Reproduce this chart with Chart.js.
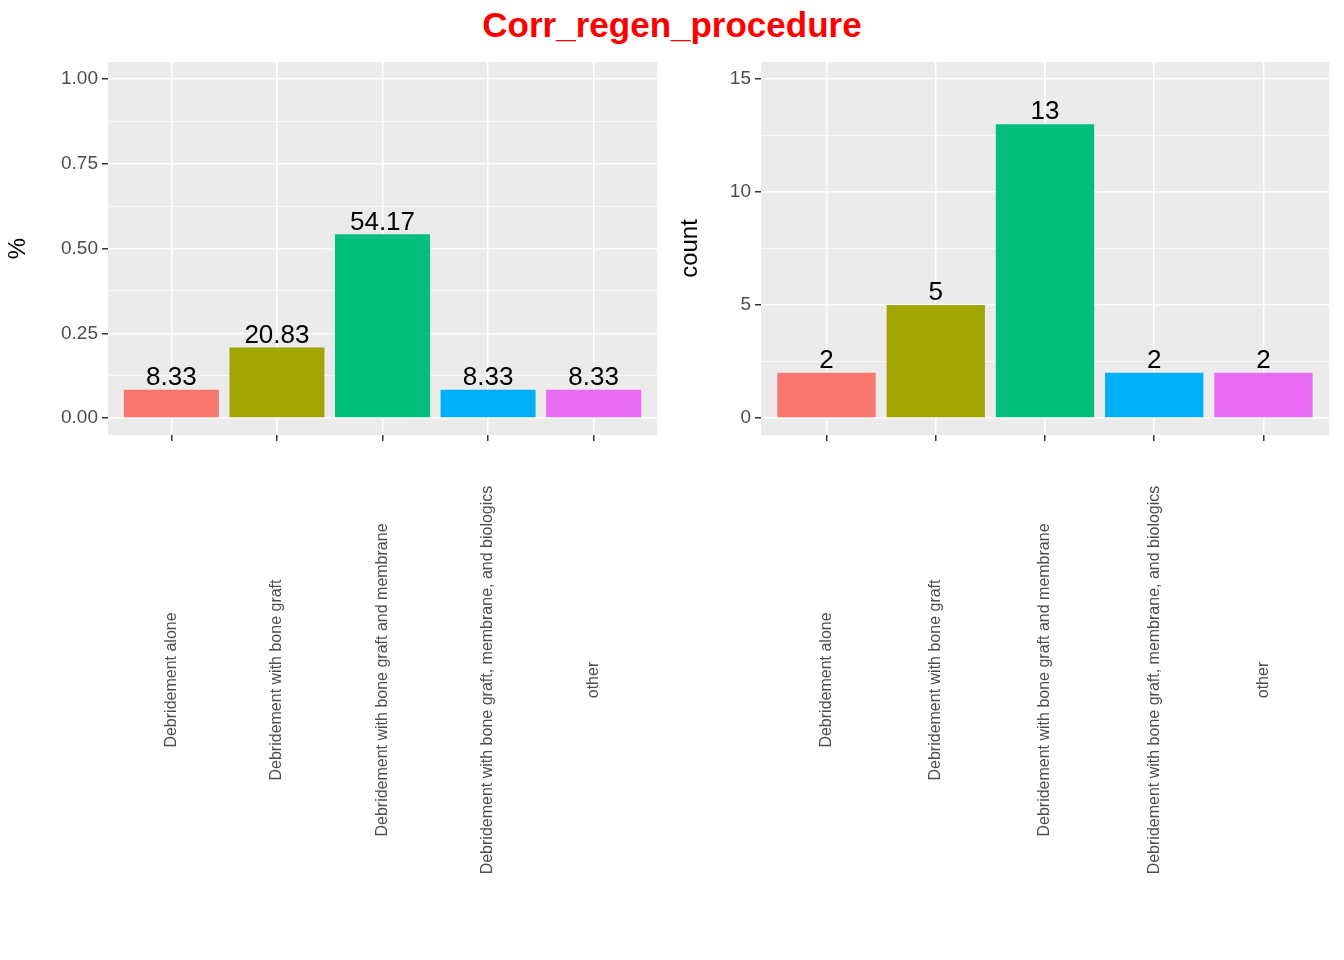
<!DOCTYPE html>
<html><head><meta charset="utf-8">
<script src="https://cdn.jsdelivr.net/npm/chart.js@4"></script>
<style>
body{margin:0;background:#fff;width:1344px;height:960px;position:relative;overflow:hidden;font-family:"Liberation Sans",Arial,sans-serif}
#title{position:absolute;left:0;width:1344px;top:5px;text-align:center;color:#ff0000;font-weight:bold;font-size:35px}
.c{position:absolute;top:40px;width:672px;height:920px}
</style></head><body>
<div id="title">Corr_regen_procedure</div>
<div class="c" style="left:0"><canvas id="c1"></canvas></div>
<div class="c" style="left:672px"><canvas id="c2"></canvas></div>
<script>
const categories=["Debridement alone","Debridement with bone graft","Debridement with bone graft and membrane","Debridement with bone graft, membrane, and biologics","other"];
const pctValues=[0.0833,0.2083,0.5417,0.0833,0.0833];
const pctLabels=["8.33","20.83","54.17","8.33","8.33"];
const countValues=[2,5,13,2,2];
const countLabels=["2","5","13","2","2"];
const colors=["#F8766D","#A3A500","#00BF7D","#00B0F6","#E76BF3"];
const pctTicks=[0,0.125,0.25,0.375,0.5,0.625,0.75,0.875,1];
const pctMajor=[0,0.25,0.5,0.75,1];
const countTicks=[0,2.5,5,7.5,10,12.5,15];
const countMajor=[0,5,10,15];

const bgPlugin={id:'bg',beforeDraw(ch){const a=ch.chartArea,c=ch.ctx;c.save();c.fillStyle='#EBEBEB';c.fillRect(a.left,a.top,a.right-a.left,a.bottom-a.top);c.restore();}};
const lblPlugin={id:'lbl',afterDatasetsDraw(ch){const c=ch.ctx,m=ch.getDatasetMeta(0),labs=ch.options.plugins.lbl.labels;c.save();c.font='26px "Liberation Sans",Arial';c.fillStyle='#000';c.textAlign='center';c.textBaseline='bottom';m.data.forEach((b,i)=>{c.fillText(labs[i],b.x,b.y+1);});
  const xs=ch.scales.x;c.font='16px "Liberation Sans",Arial';c.fillStyle='#4d4d4d';c.textBaseline='middle';
  categories.forEach((t,i)=>{const px=xs.getPixelForValue(i+1);c.save();c.translate(px,640);c.rotate(-Math.PI/2);c.fillText(t,0,0);c.restore();});
  c.restore();}};

function make(id,vals,labs,ticks,major,ymin,ymax,fmt,ytitle,yw){
  new Chart(document.getElementById(id),{type:'bar',
    data:{datasets:[{data:vals.map((v,i)=>({x:i+1,y:v})),backgroundColor:colors,barPercentage:0.9,categoryPercentage:1}]},
    options:{responsive:true,maintainAspectRatio:false,animation:false,
      layout:{padding:{top:22,right:15,left:0,bottom:0}},
      plugins:{legend:{display:false},tooltip:{enabled:false},lbl:{labels:labs}},
      scales:{
        x:{type:'linear',min:0.4,max:5.6,offset:false,
          afterBuildTicks(s){s.ticks=[1,2,3,4,5].map(v=>({value:v}));},
          afterFit(s){s.height=525;},
          ticks:{autoSkip:false,color:'#4d4d4d',callback:()=>''},
          grid:{offset:false,color:'#fff',lineWidth:1.5,tickColor:'#333',tickLength:6},border:{display:false}},
        y:{min:ymin,max:ymax,
          afterBuildTicks(s){s.ticks=ticks.map(v=>({value:v}));},
          afterFit(s){s.width=yw;},
          title:{display:true,text:ytitle,color:'#000',font:{size:24,family:'"Liberation Sans",Arial'}},
          ticks:{autoSkip:false,color:'#4d4d4d',font:{size:19,family:'"Liberation Sans",Arial'},padding:4,callback:v=>major.includes(v)?fmt(v):''},
          grid:{color:'#fff',lineWidth:c=>major.includes(c.tick&&c.tick.value)?1.5:0.7,tickColor:c=>major.includes(c.tick&&c.tick.value)?'#333':'rgba(0,0,0,0)',tickLength:6},border:{display:false}}
      }},
    plugins:[bgPlugin,lblPlugin]});
}
make('c1',pctValues,pctLabels,pctTicks,pctMajor,-0.05,1.05,v=>v.toFixed(2),'%',108);
make('c2',countValues,countLabels,countTicks,countMajor,-0.75,15.75,v=>String(v),'count',89);
</script></body></html>
